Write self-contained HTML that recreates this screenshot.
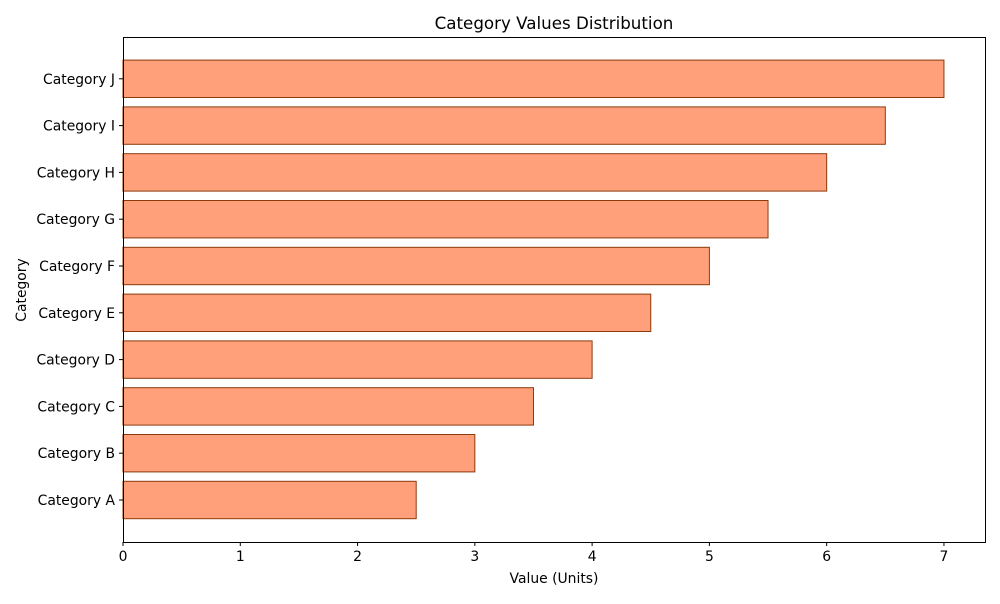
<!DOCTYPE html>
<html><head><meta charset="utf-8"><style>
body{margin:0;background:#fff;font-family:"DejaVu Sans","Liberation Sans",sans-serif;}
svg text{font-family:"DejaVu Sans","Liberation Sans",sans-serif;}
</style></head><body>
<svg id="chart" width="1000" height="600" xmlns="http://www.w3.org/2000/svg">
<rect width="1000" height="600" fill="#fff"/>
<text x="554" y="29" font-size="16.7" text-anchor="middle">Category Values Distribution</text>
<text x="554" y="583" font-size="13.9" text-anchor="middle">Value (Units)</text>
<text x="26" y="290" font-size="13.9" text-anchor="middle" transform="rotate(-90 26 290)">Category</text>
<g id="bars"></g>
<g id="axes"></g>
<rect x="123.5" y="37.5" width="862" height="505" fill="none" stroke="#000" stroke-width="1"/>
</svg>
<script>
const categories=["Category A","Category B","Category C","Category D","Category E","Category F","Category G","Category H","Category I","Category J"];
const values=[2.5,3,3.5,4,4.5,5,5.5,6,6.5,7];
const xTicks=[0,1,2,3,4,5,6,7];
const L=123,R=985,T=37,B=542,xMax=7.35;
const ns="http://www.w3.org/2000/svg";
const x=v=>L+(v/xMax)*(R-L);
const yc=i=>500-i*46.8;
const bars=document.getElementById('bars'),axes=document.getElementById('axes');
function mk(t,a,p){const e=document.createElementNS(ns,t);for(const k in a)e.setAttribute(k,a[k]);p.appendChild(e);return e;}
categories.forEach((c,i)=>{
 const r=mk('rect',{x:x(0),y:yc(i)-18.7,width:x(values[i])-x(0),height:37.4,fill:'#FFA07A',stroke:'#8B3A0A','stroke-width':1},bars);
 
 
 mk('line',{x1:L-4,x2:L,y1:yc(i),y2:yc(i),stroke:'#000'},axes);
 const t=mk('text',{x:L-8,y:yc(i)+5,'font-size':13.9,'text-anchor':'end'},axes);
 t.textContent=c;
 
 
});
xTicks.forEach(v=>{
 mk('line',{x1:x(v),x2:x(v),y1:B,y2:B+4,stroke:'#000'},axes);
 const t=mk('text',{x:x(v),y:B+19,'font-size':13.9,'text-anchor':'middle'},axes);
 t.textContent=v;
 
 
});
</script>
</body></html>
